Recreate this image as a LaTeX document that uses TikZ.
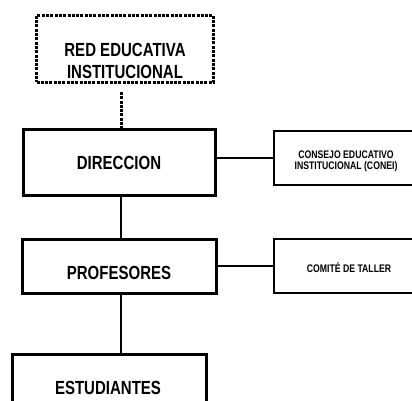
\documentclass[tikz,border=0pt]{standalone}
\usepackage{fontspec}
\newfontfamily\orgfont{Liberation Sans}[FakeStretch=0.79]
\begin{document}
\begin{tikzpicture}[x=1pt,y=-1pt,
    bigbox/.style={draw, rectangle, line width=3pt, inner sep=0pt},
    smallbox/.style={draw, rectangle, line width=2pt, inner sep=0pt},
    dotbox/.style={draw, rectangle, line width=3pt, dash pattern=on 3pt off 1.3pt, inner sep=0pt},
    bigtext/.style={font=\orgfont\bfseries\fontsize{19}{22}\selectfont, align=center, inner sep=0pt},
    smalltext/.style={font=\orgfont\bfseries\fontsize{11}{11}\selectfont, align=center, inner sep=0pt},
    link/.style={line width=2pt}]
    \clip (0,0) rectangle (412,401);
    \fill[white] (0,0) rectangle (412,401);
    \coordinate (spine) at (121,0);
    % boxes
    \node[dotbox, minimum width=177pt, minimum height=67pt] (red) at (125,49) {};
    \node[bigbox, minimum width=192pt, minimum height=66pt] (dir) at (119.5,162.5) {};
    \node[smallbox, minimum width=156pt, minimum height=54pt] (conei) at (352,158) {};
    \node[bigbox, minimum width=194pt, minimum height=54pt] (prof) at (119.5,266.5) {};
    \node[smallbox, minimum width=156pt, minimum height=54pt] (comite) at (352,266) {};
    \node[bigbox, minimum width=194pt, minimum height=75.5pt] (est) at (109.5,392.25) {};
    % texts
    \node[bigtext] (redtxt) at (125,61) {RED EDUCATIVA\\INSTITUCIONAL};
    \node[bigtext] (dirtxt) at (119,163) {DIRECCION};
    \node[smalltext] (coneitxt) at (346,161.5) {CONSEJO EDUCATIVO\\INSTITUCIONAL (CONEI)};
    \node[bigtext] (proftxt) at (119,273) {PROFESORES};
    \node[smalltext] (comtxt) at (349,268) {COMITÉ DE TALLER};
    \node[bigtext] (esttxt) at (108,388) {ESTUDIANTES};
    % connectors
    \draw[line width=3pt, dash pattern=on 3pt off 1.3pt, shorten <=8pt] (red.south -| spine) -- (dir.north -| spine);
    \draw[link] (conei.west -| dir.east) -- (conei.west);
    \draw[link] (dir.south -| spine) -- (prof.north -| spine);
    \draw[link] (comite.west -| prof.east) -- (comite.west);
    \draw[link] (prof.south -| spine) -- (est.north -| spine);
\end{tikzpicture}
\end{document}
